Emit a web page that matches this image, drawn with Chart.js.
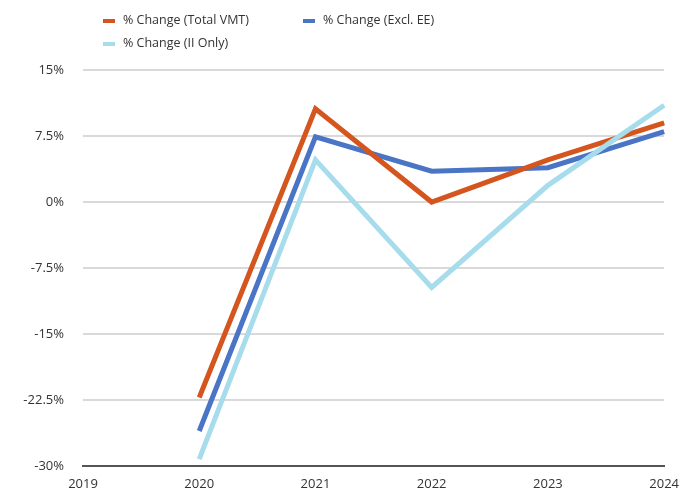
<!DOCTYPE html>
<html>
<head>
<meta charset="utf-8">
<title>VMT % change</title>
<script src="https://cdn.jsdelivr.net/npm/chart.js@4.4.1/dist/chart.umd.min.js"></script>
<style>
    body { margin: 0; background: #fff; }
    #wrap { position: relative; width: 689px; height: 493px; }
    #legend { position: absolute; left: 103px; top: 11px; width: 420px;
              font-family: "Open Sans", sans-serif; font-size: 12.5px; color: #333; }
    .item { position: absolute; white-space: nowrap; }
    .item i { display: inline-block; width: 12px; height: 4px; margin-right: 8px; vertical-align: middle; }
</style>
</head>
<body>
<div id="wrap">
    <canvas id="chart" width="689" height="493"></canvas>
    <div id="legend"></div>
</div>
<script>
var years = ['2019', '2020', '2021', '2022', '2023', '2024'];
var totalVmt = [null, -22.2, 10.6, 0.0, 4.8, 9.0];
var exclEE   = [null, -26.0, 7.4, 3.5, 3.9, 8.0];
var iiOnly   = [null, -29.2, 4.8, -9.7, 1.9, 11.0];
var yTicks   = [-30, -22.5, -15, -7.5, 0, 7.5, 15];

var seriesNames  = ['% Change (Total VMT)', '% Change (Excl. EE)', '% Change (II Only)'];
var seriesColors = ['#D4561E', '#4A74C6', '#A6DCEB'];

var makeSet = (i, data, order) => ({
    label: seriesNames[i],
    data: data,
    borderColor: seriesColors[i],
    backgroundColor: seriesColors[i],
    borderWidth: 5,
    pointRadius: 0,
    tension: 0,
    fill: false,
    order: order
});

var chart = new Chart(document.getElementById('chart'), {
    type: 'line',
    data: {
        labels: years,
        datasets: [makeSet(0, totalVmt, 1), makeSet(1, exclEE, 2), makeSet(2, iiOnly, 0)]
    },
    options: {
        responsive: false,
        animation: false,
        layout: { padding: { top: 70, right: 20, bottom: 0, left: 0 } },
        plugins: { legend: { display: false }, tooltip: { enabled: false } },
        scales: {
            x: {
                grid: { display: false, drawTicks: false },
                border: { display: true, color: '#555', width: 2 },
                ticks: { padding: 10, color: '#333', font: { family: 'Open Sans', size: 13 }, maxRotation: 0 },
                afterFit: (s) => { s.height = 24; }
            },
            y: {
                min: -30,
                max: 15,
                afterBuildTicks: (s) => { s.ticks = yTicks.map(v => ({ value: v })); },
                grid: { color: '#d9d9d9', lineWidth: 2, drawTicks: false },
                border: { display: false },
                ticks: {
                    padding: 19, color: '#333', font: { family: 'Open Sans', size: 13 },
                    callback: (v) => (Math.round(v * 10) / 10) + '%'
                },
                afterFit: (s) => { s.width = 83; }
            }
        }
    }
});

// legend laid out like the original: two columns, third item wraps under the first
var spots = [[0, 0], [200, 0], [0, 23]];
var leg = document.getElementById('legend');
chart.data.datasets.forEach((ds, i) => {
    var d = document.createElement('div');
    d.className = 'item';
    d.style.left = spots[i][0] + 'px';
    d.style.top = spots[i][1] + 'px';
    d.innerHTML = '<i style="background:' + ds.borderColor + '"></i>' + ds.label;
    leg.appendChild(d);
});
</script>
</body>
</html>
